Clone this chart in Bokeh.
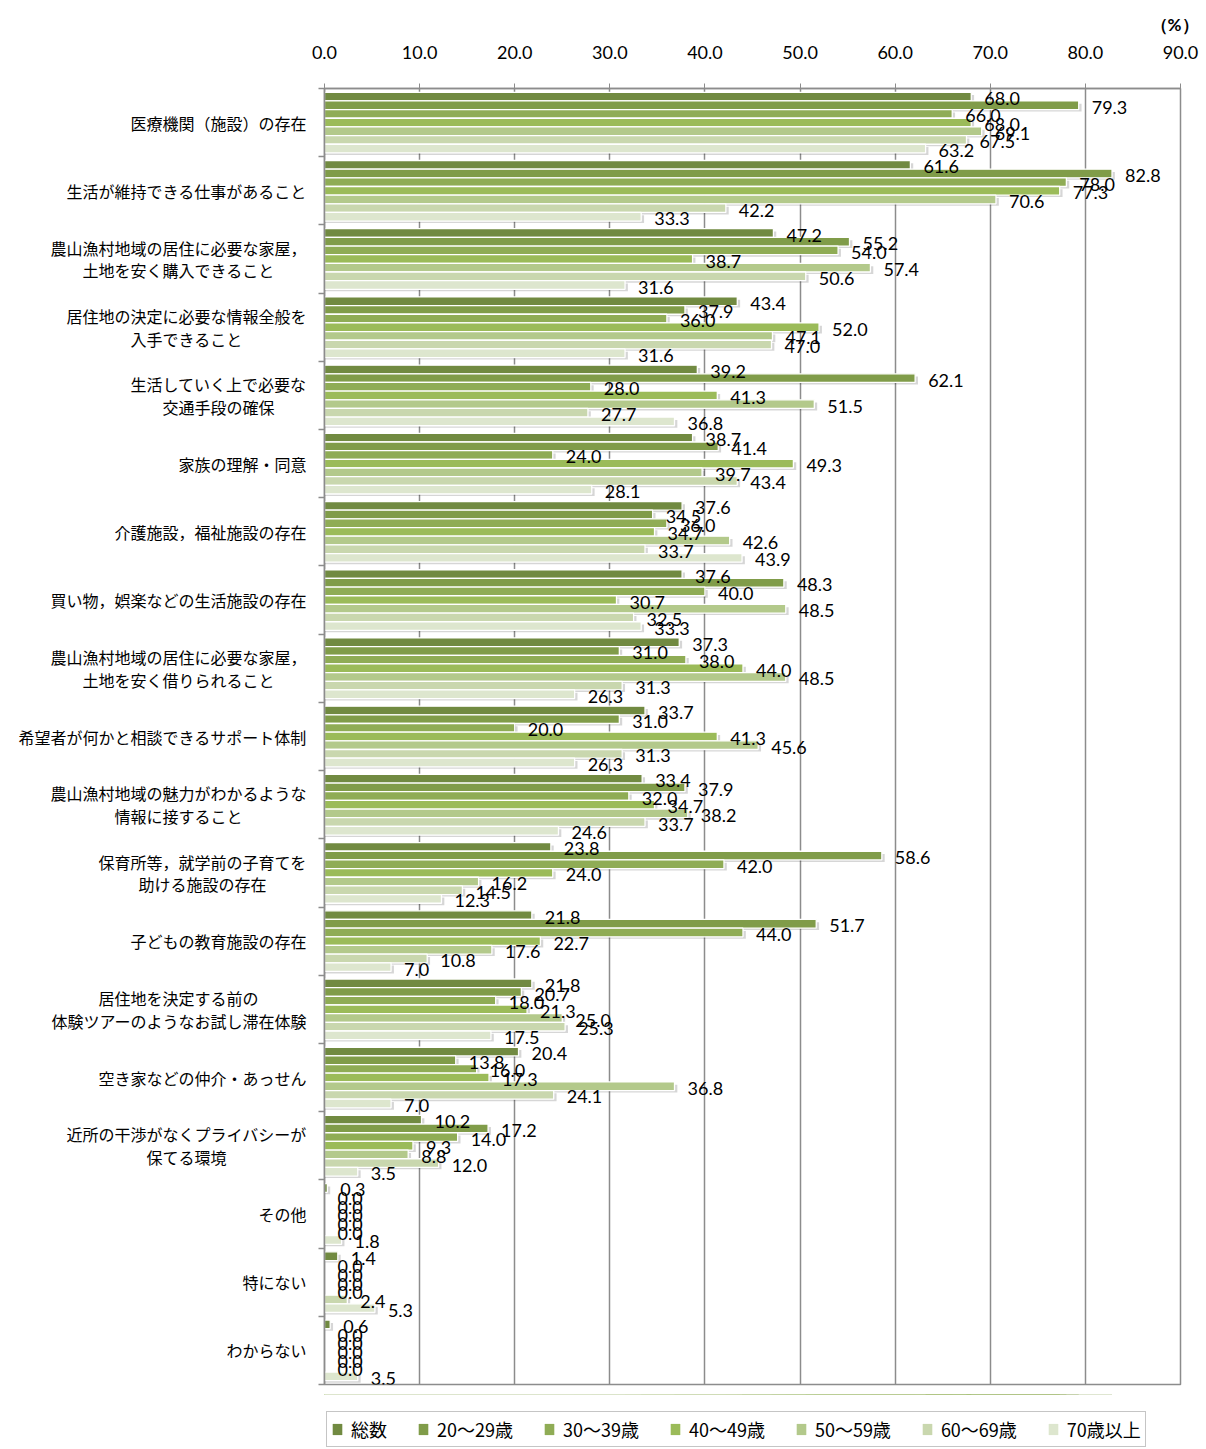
import numpy as np
from bokeh.plotting import figure
from bokeh.layouts import column
from bokeh.models import Range1d, FixedTicker, Legend, LegendItem, ColumnDataSource, NumeralTickFormatter, Title
from bokeh.embed import file_html
from bokeh.resources import INLINE
from bokeh.core.properties import value

S = "\u3000"
categories = [
    "医療機関（施設）の存在",
    "生活が維持できる仕事があること",
    "農山漁村地域の居住に必要な家屋，\n土地を安く購入できること" + S * 2,
    "居住地の決定に必要な情報全般を\n入手できること" + S * 4,
    "生活していく上で必要な\n交通手段の確保" + S * 2,
    "家族の理解・同意",
    "介護施設，福祉施設の存在",
    "買い物，娯楽などの生活施設の存在",
    "農山漁村地域の居住に必要な家屋，\n土地を安く借りられること" + S * 2,
    "希望者が何かと相談できるサポート体制",
    "農山漁村地域の魅力がわかるような\n情報に接すること" + S * 4,
    "保育所等，就学前の子育てを\n助ける施設の存在" + S * 2 + "\u2002",
    "子どもの教育施設の存在",
    "居住地を決定する前の" + S * 3 + "\n体験ツアーのようなお試し滞在体験",
    "空き家などの仲介・あっせん",
    "近所の干渉がなくプライバシーが\n保てる環境" + S * 5,
    "その他",
    "特にない",
    "わからない",
]

series = ["総数", "20〜29歳", "30〜39歳", "40〜49歳", "50〜59歳", "60〜69歳", "70歳以上"]

total   = [68.0, 61.6, 47.2, 43.4, 39.2, 38.7, 37.6, 37.6, 37.3, 33.7, 33.4, 23.8, 21.8, 21.8, 20.4, 10.2, 0.3, 1.4, 0.6]
age_20s = [79.3, 82.8, 55.2, 37.9, 62.1, 41.4, 34.5, 48.3, 31.0, 31.0, 37.9, 58.6, 51.7, 20.7, 13.8, 17.2, 0.0, 0.0, 0.0]
age_30s = [66.0, 78.0, 54.0, 36.0, 28.0, 24.0, 36.0, 40.0, 38.0, 20.0, 32.0, 42.0, 44.0, 18.0, 16.0, 14.0, 0.0, 0.0, 0.0]
age_40s = [68.0, 77.3, 38.7, 52.0, 41.3, 49.3, 34.7, 30.7, 44.0, 41.3, 34.7, 24.0, 22.7, 21.3, 17.3, 9.3, 0.0, 0.0, 0.0]
age_50s = [69.1, 70.6, 57.4, 47.1, 51.5, 39.7, 42.6, 48.5, 48.5, 45.6, 38.2, 16.2, 17.6, 25.0, 36.8, 8.8, 0.0, 0.0, 0.0]
age_60s = [67.5, 42.2, 50.6, 47.0, 27.7, 43.4, 33.7, 32.5, 31.3, 31.3, 33.7, 14.5, 10.8, 25.3, 24.1, 12.0, 0.0, 2.4, 0.0]
age_70p = [63.2, 33.3, 31.6, 31.6, 36.8, 28.1, 43.9, 33.3, 26.3, 26.3, 24.6, 12.3, 7.0, 17.5, 7.0, 3.5, 1.8, 5.3, 3.5]

x_ticks = [0, 10, 20, 30, 40, 50, 60, 70, 80, 90]

all_values = [total, age_20s, age_30s, age_40s, age_50s, age_60s, age_70p]
colors = ["#718a41", "#809c49", "#8fac55", "#9bbb59", "#b3c98b", "#c9d7ae", "#dde6ce"]

n_cat = len(categories)
n_ser = len(series)
pitch = 0.127

p = figure(
    frame_width=856, frame_height=1296,
    min_border_left=324, min_border_right=26, min_border_top=88, min_border_bottom=10,
    x_range=Range1d(0, 90), y_range=Range1d(n_cat - 0.5, -0.5),
    x_axis_location="above",
    output_backend="svg", toolbar_location=None,
)
p.background_fill_color = "white"
p.border_fill_color = "white"
p.outline_line_color = "#8c8c8c"
p.outline_line_width = 1.5

t = Title(text="（%）", align="right", offset=-18, standoff=16,
          text_font="Lato", text_font_size="17px", text_font_style="bold",
          text_color="#000000")
p.add_layout(t, "above")

cat_idx = np.arange(n_cat)

# shadows
for j, vals in enumerate(all_values):
    v = np.array(vals)
    y = cat_idx + (j - (n_ser - 1) / 2) * pitch
    src = ColumnDataSource(dict(y=y + 0.035, right=np.where(v > 0, v + 0.3, 0.0)))
    p.hbar(y="y", left=0, right="right", height=pitch * 0.9, source=src,
           fill_color="black", fill_alpha=0.16, line_alpha=0)

bar_sources = []
for j, vals in enumerate(all_values):
    v = np.array(vals)
    y = cat_idx + (j - (n_ser - 1) / 2) * pitch
    src = ColumnDataSource(dict(y=y, right=v))
    bar_sources.append(src)
    p.hbar(y="y", left=0, right="right", height=pitch, source=src,
           fill_color=colors[j], line_color="white", line_width=1.3)

for j, vals in enumerate(all_values):
    v = np.array(vals)
    y = cat_idx + (j - (n_ser - 1) / 2) * pitch
    src = ColumnDataSource(dict(y=y, x=v, t=[f"{a:.1f}" for a in v]))
    p.text(x="x", y="y", text="t", source=src, x_offset=13, y_offset=2,
           text_baseline="middle", text_align="left",
           text_font=value("Lato"), text_font_size="18px", text_color="#000000")

# x axis
p.xaxis.ticker = FixedTicker(ticks=x_ticks)
p.xaxis.formatter = NumeralTickFormatter(format="0.0")
p.xaxis.major_label_text_font = "Lato"
p.xaxis.major_label_text_font_size = "18px"
p.xaxis.major_label_text_color = "#000000"
p.xaxis.axis_line_color = "#8c8c8c"
p.xaxis.axis_line_width = 1.5
p.xaxis.major_tick_line_color = "#8c8c8c"
p.xaxis.major_tick_out = 5
p.xaxis.major_tick_in = 0
p.xaxis.minor_tick_line_color = None
p.xaxis.major_label_standoff = 25

p.xgrid.ticker = FixedTicker(ticks=x_ticks)
p.xgrid.grid_line_color = "#8c8c8c"
p.xgrid.grid_line_width = 1.5
p.ygrid.grid_line_color = None

# y axis
p.yaxis.ticker = FixedTicker(ticks=list(range(n_cat)), minor_ticks=[i - 0.5 for i in range(n_cat + 1)])
p.yaxis.major_label_overrides = {i: c for i, c in enumerate(categories)}
p.yaxis.major_tick_out = 0
p.yaxis.major_tick_in = 0
p.yaxis.minor_tick_out = 6
p.yaxis.minor_tick_in = 0
p.yaxis.minor_tick_line_color = "#8c8c8c"
p.yaxis.minor_tick_line_width = 1.5
p.yaxis.axis_line_color = "#8c8c8c"
p.yaxis.axis_line_width = 1.5
p.yaxis.major_label_standoff = 12
p.yaxis.major_label_text_font = "Noto Sans CJK JP"
p.yaxis.major_label_text_font_size = "16px"
p.yaxis.major_label_text_color = "#000000"
p.yaxis.major_label_text_line_height = 0.95

# legend strip below the chart (same data, bars kept out of its view)
lg = figure(width=1206, height=55, min_border=0, x_range=Range1d(0, 90), y_range=Range1d(-100, -99),
            x_axis_type=None, y_axis_type=None, output_backend="svg", toolbar_location=None)
lg.outline_line_color = None
lg.grid.visible = False
items = []
for s, c, src in zip(series, colors, bar_sources):
    r = lg.hbar(y="y", left=0, right="right", height=0, source=src,
                fill_color=c, line_color=None)
    items.append(LegendItem(label=s, renderers=[r]))
legend = Legend(
    items=items, orientation="horizontal", location=(2, 2),
    label_text_font="Noto Sans CJK JP", label_text_font_size="18px", label_text_color="#000000",
    glyph_width=12, glyph_height=14, spacing=30, label_standoff=8,
    padding=4, margin=0,
    border_line_color="#8c8c8c", border_line_width=1.5,
)
lg.add_layout(legend)

open("out.html", "w").write(file_html(column(p, lg, spacing=0), INLINE))
